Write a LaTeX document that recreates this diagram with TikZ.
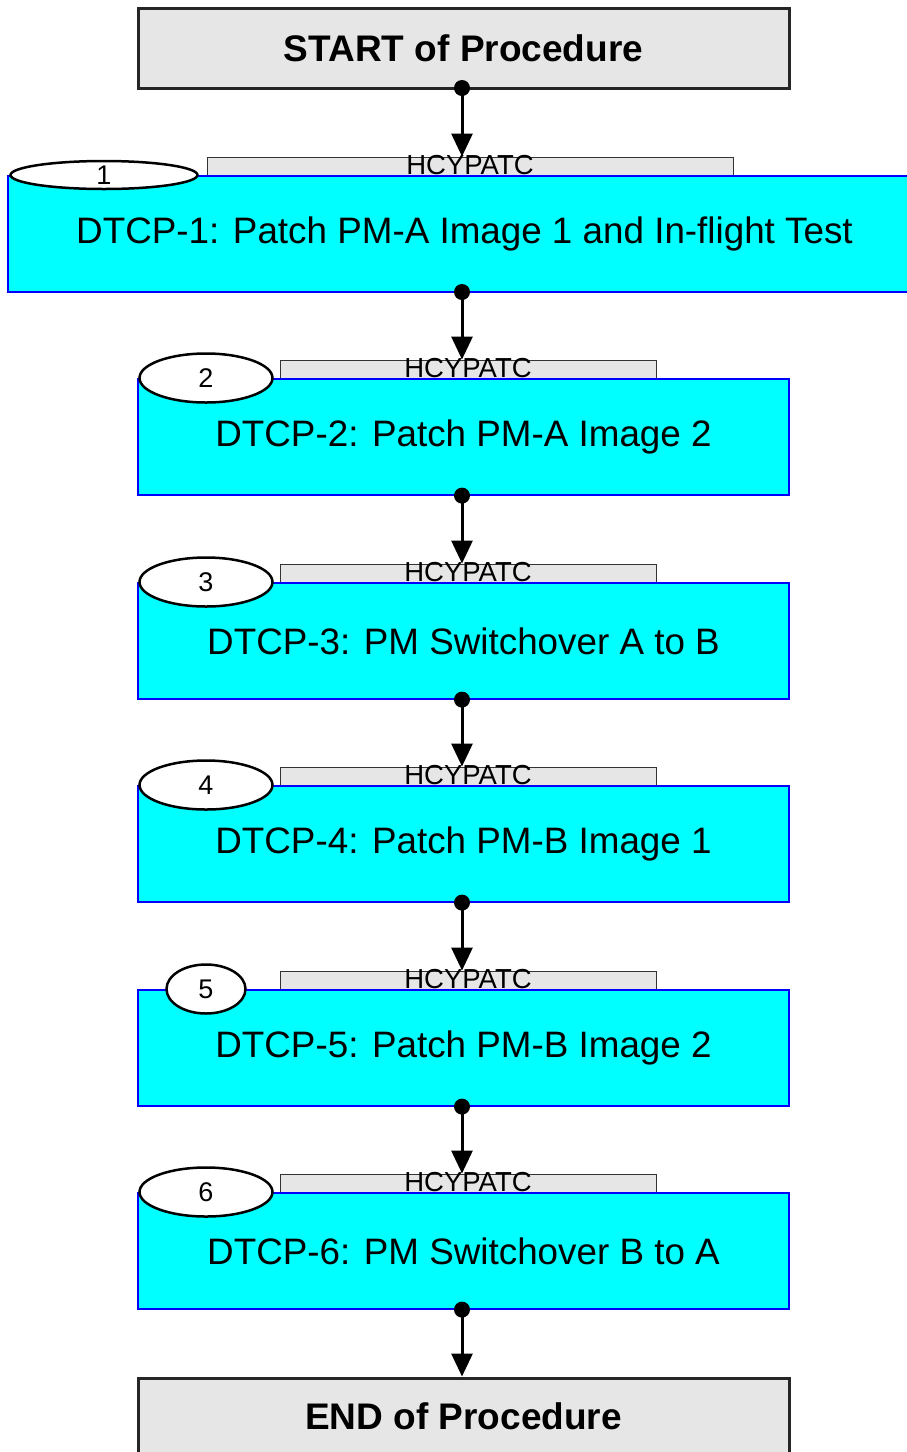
\documentclass[tikz,border=0pt]{standalone}
\usepackage{fontspec}
\setmainfont{Liberation Sans}
\usetikzlibrary{shapes.geometric,arrows.meta}
\definecolor{boxgray}{HTML}{E6E6E6}
\definecolor{cyanfill}{HTML}{00FFFF}
\definecolor{blueline}{HTML}{0000FF}
\tikzset{
  endbox/.style={draw=black!85, line width=3pt, fill=boxgray, minimum width=651pt, minimum height=80pt, inner sep=0pt, font=\fontsize{37}{40}\selectfont\bfseries},
  stepbox/.style={draw=blueline, line width=1.2pt, fill=cyanfill, minimum width=651pt, minimum height=116pt, inner sep=0pt, font=\fontsize{36.8}{40}\selectfont},
  tagbar/.style={draw=black!80, line width=1pt, fill=boxgray, minimum width=376pt, minimum height=19pt, inner sep=0pt},
  tagtext/.style={anchor=base, inner sep=0pt, font=\fontsize{27.5}{30}\selectfont},
  numoval/.style={ellipse, draw=black, line width=2.5pt, fill=white, minimum width=133pt, minimum height=49pt, inner sep=0pt, font=\fontsize{27}{28}\selectfont},
  flow/.style={line width=3pt, -{Triangle[width=21pt,length=23pt]}},
  dotc/.style={fill=black}
}
\begin{document}
\begin{tikzpicture}[x=1pt,y=-1pt]
\useasboundingbox (0,0) rectangle (907,1452);
% start
\node[endbox] (start) at (463.5,48) {START of Procedure};
% step 1
\node[tagbar, minimum width=526pt] (bar1) at (470,166.5) {};
\node[stepbox, minimum width=913pt] (s1) at (464.5,234) {DTCP-1: Patch PM-A Image 1 and In-flight Test};
\node[tagtext] (t1) at (470,174) {HCYPATC};
\node[numoval, minimum width=187pt, minimum height=28pt] (n1) at (104,175) {1};
% steps 2..6
\foreach \i/\top/\txt/\ow in {2/379/{DTCP-2: Patch PM-A Image 2}/133,
                              3/583/{DTCP-3: PM Switchover A to B}/133,
                              4/786/{DTCP-4: Patch PM-B Image 1}/133,
                              5/990/{DTCP-5: Patch PM-B Image 2}/79,
                              6/1193/{DTCP-6: PM Switchover B to A}/133}{
  \node[tagbar] (bar\i) at (468,\top-9.5) {};
  \node[stepbox] (s\i) at (463.5,\top+58) {\txt};
  \node[tagtext] (t\i) at (468,\top-2) {HCYPATC};
  \node[numoval, minimum width=\ow pt] (n\i) at (206,\top-1) {\i};
}
% end
\node[endbox, minimum height=100pt] (end) at (463.5,1428) {};
\node[font=\fontsize{37}{40}\selectfont\bfseries, inner sep=0pt] (endt) at (463.5,1416) {END of Procedure};
% connectors
\coordinate (a0) at (462,88);
\coordinate (a1) at (462,292);
\fill[dotc] (a0) circle (8pt);
\draw[flow] (a0) -- (bar1.north -| a0);
\fill[dotc] (a1) circle (8pt);
\draw[flow] (a1) -- (bar2.north -| a1);
\foreach \i/\j in {2/3,3/4,4/5,5/6}{
  \coordinate (d\i) at (s\i.south -| a0);
  \fill[dotc] (d\i) circle (8pt);
  \draw[flow] (d\i) -- (bar\j.north -| a0);
}
\coordinate (d6) at (s6.south -| a0);
\fill[dotc] (d6) circle (8pt);
\draw[flow] (d6) -- (end.north -| a0);
\end{tikzpicture}
\end{document}
